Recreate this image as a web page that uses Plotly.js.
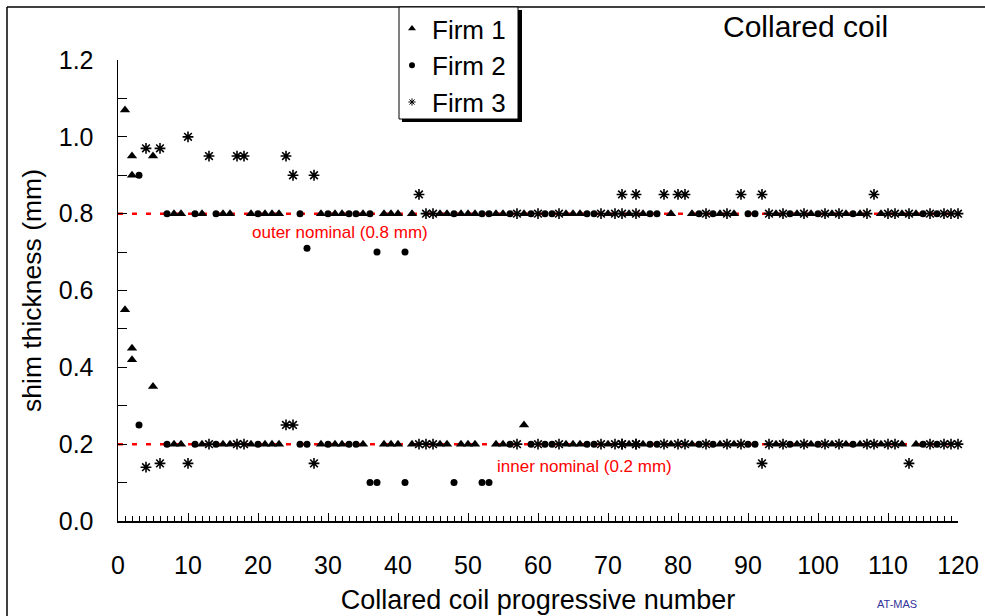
<!DOCTYPE html>
<html>
<head>
<meta charset="utf-8">
<script src="https://cdn.plot.ly/plotly-3.0.1.min.js"></script>
<style>
html,body{margin:0;padding:0;background:#fff;}
#chart{width:985px;height:616px;}
</style>
</head>
<body>
<div id="chart"></div>
<script>
// ---------------- DATA ----------------
// Firm 1 (triangles): coil number, outer shim, inner shim
var firm1Coil  = [1,2,2,5,8,9,12,15,16,19,21,22,23,29,31,32,35,38,39,40,42,46,47,49,50,51,54,55,58,64,65,66,70,73,75,79,82,86,88,94,97,99,102,104,106,109,112,114];
var firm1Outer = [1.07,0.95,0.90,0.95,0.80,0.80,0.80,0.80,0.80,0.80,0.80,0.80,0.80,0.80,0.80,0.80,0.80,0.80,0.80,0.80,0.80,0.80,0.80,0.80,0.80,0.80,0.80,0.80,0.80,0.80,0.80,0.80,0.80,0.80,0.80,0.80,0.80,0.80,0.80,0.80,0.80,0.80,0.80,0.80,0.80,0.80,0.80,0.80];
var firm1Inner = [0.55,0.45,0.42,0.35,0.20,0.20,0.20,0.20,0.20,0.20,0.20,0.20,0.20,0.20,0.20,0.20,0.20,0.20,0.20,0.20,0.20,0.20,0.20,0.20,0.20,0.20,0.20,0.20,0.25,0.20,0.20,0.20,0.20,0.20,0.20,0.20,0.20,0.20,0.20,0.20,0.20,0.20,0.20,0.20,0.20,0.20,0.20,0.20];

// Firm 2 (circles)
var firm2Coil  = [3,7,11,14,20,26,27,30,33,34,36,37,41,48,52,53,56,59,61,62,67,68,76,77,83,85,90,91,96,100,105,115,117];
var firm2Outer = [0.90,0.80,0.80,0.80,0.80,0.80,0.71,0.80,0.80,0.80,0.80,0.70,0.70,0.80,0.80,0.80,0.80,0.80,0.80,0.80,0.80,0.80,0.80,0.80,0.80,0.80,0.80,0.80,0.80,0.80,0.80,0.80,0.80];
var firm2Inner = [0.25,0.20,0.20,0.20,0.20,0.20,0.20,0.20,0.20,0.20,0.10,0.10,0.10,0.10,0.10,0.10,0.20,0.20,0.20,0.20,0.20,0.20,0.20,0.20,0.20,0.20,0.20,0.20,0.20,0.20,0.20,0.20,0.20];

// Firm 3 (stars)
var firm3Coil  = [4,6,10,13,17,18,24,25,28,43,44,45,57,60,63,69,71,72,72,74,74,78,80,81,84,87,89,92,93,95,98,101,103,107,108,110,111,113,116,118,119,120];
var firm3Outer = [0.97,0.97,1.00,0.95,0.95,0.95,0.95,0.90,0.90,0.85,0.80,0.80,0.80,0.80,0.80,0.80,0.80,0.85,0.80,0.85,0.80,0.85,0.85,0.85,0.80,0.80,0.85,0.85,0.80,0.80,0.80,0.80,0.80,0.80,0.85,0.80,0.80,0.80,0.80,0.80,0.80,0.80];
var firm3Inner = [0.14,0.15,0.15,0.20,0.20,0.20,0.25,0.25,0.15,0.20,0.20,0.20,0.20,0.20,0.20,0.20,0.20,0.20,0.20,0.20,0.20,0.20,0.20,0.20,0.20,0.20,0.20,0.15,0.20,0.20,0.20,0.20,0.20,0.20,0.20,0.20,0.20,0.15,0.20,0.20,0.20,0.20];

// Nominal values
var nominalX     = [0, 120];
var outerNominal = 0.8;
var innerNominal = 0.2;

var xTickVals = [0,10,20,30,40,50,60,70,80,90,100,110,120];
var yTickVals = [0.0,0.2,0.4,0.6,0.8,1.0,1.2];

// ---------------- GEOMETRY HELPERS (pixel -> paper) ----------------
var L = 118, R = 958, T = 60, B = 521, W = 985, H = 616;
function px(xp){ return (xp - L) / (R - L); }
function py(yp){ return (B - yp) / (B - T); }

var FONT = 'Arial, "Liberation Sans", sans-serif';

function firmTrace(name, coils, outer, inner, marker){
  return {
    type: 'scatter', mode: 'markers', name: name, showlegend: false,
    x: coils.concat(coils), y: outer.concat(inner),
    marker: marker, cliponaxis: false, hoverinfo: 'x+y'
  };
}
function legendTrace(name, marker){
  return {type:'scatter', mode:'markers', name:name, x:[null], y:[null], marker:marker, showlegend:true};
}

var redDash = {color:'#ff0000', width:2.5, dash:'5px,9px'};

var traces = [
  {type:'scatter', mode:'lines', x:nominalX, y:[outerNominal,outerNominal], line:redDash, showlegend:false, hoverinfo:'skip'},
  {type:'scatter', mode:'lines', x:nominalX, y:[innerNominal,innerNominal], line:redDash, showlegend:false, hoverinfo:'skip'},
  firmTrace('Firm 1', firm1Coil, firm1Outer, firm1Inner, {symbol:'triangle-up', size:9, color:'#000'}),
  firmTrace('Firm 2', firm2Coil, firm2Outer, firm2Inner, {symbol:'circle', size:7, color:'#000'}),
  firmTrace('Firm 3', firm3Coil, firm3Outer, firm3Inner, {symbol:'asterisk-open', size:9, color:'#000', line:{color:'#000', width:1.6}}),
  legendTrace('Firm 1', {symbol:'triangle-up', size:7, color:'#000'}),
  legendTrace('Firm 2', {symbol:'circle', size:6, color:'#000'}),
  legendTrace('Firm 3', {symbol:'asterisk-open', size:6, color:'#000', line:{color:'#000', width:1}})
];

var layout = {
  width: W, height: H,
  margin: {l: L, r: W - R, t: T, b: H - B, pad: 0, autoexpand: false},
  paper_bgcolor: '#fff', plot_bgcolor: '#fff',
  font: {family: FONT, color: '#000', size: 24},
  showlegend: true,
  legend: {
    x: px(392), y: py(5), xanchor: 'left', yanchor: 'top',
    bgcolor: 'rgba(0,0,0,0)', borderwidth: 0,
    font: {family: FONT, size: 26, color: '#000'},
    itemwidth: 30, tracegroupgap: 0
  },
  xaxis: {
    range: [0, 120], showline: true, linecolor: '#000', linewidth: 1.5,
    showgrid: false, zeroline: false,
    tickmode: 'array', tickvals: xTickVals,
    ticks: 'inside', ticklen: 8, tickcolor: '#000', tickwidth: 1,
    minor: {dtick: 1, ticks: 'inside', ticklen: 5, tickcolor: '#000', tickwidth: 1, showgrid: false},
    tickfont: {family: FONT, size: 25, color: '#000'},
    ticklabelstandoff: 21,
    title: {text: 'Collared coil progressive number', font: {family: FONT, size: 27, color: '#000'}, standoff: 12},
    automargin: false, fixedrange: true
  },
  yaxis: {
    range: [0, 1.2], showline: true, linecolor: '#000', linewidth: 1.5,
    showgrid: false, zeroline: false,
    tickmode: 'array', tickvals: yTickVals, tickformat: '.1f',
    ticks: 'inside', ticklen: 9, tickcolor: '#000', tickwidth: 1,
    minor: {dtick: 0.1, ticks: 'inside', ticklen: 9, tickcolor: '#000', tickwidth: 1, showgrid: false},
    tickfont: {family: FONT, size: 25, color: '#000'},
    ticklabelstandoff: 18,
    title: {text: 'shim thickness (mm)', font: {family: FONT, size: 26.5, color: '#000'}, standoff: 9},
    automargin: false, fixedrange: true
  },
  annotations: [
    {text: 'Collared coil', xref: 'paper', yref: 'paper', x: px(805), y: py(27), xanchor: 'center', yanchor: 'middle',
     showarrow: false, font: {family: FONT, size: 30, color: '#000'}},
    {text: 'outer nominal (0.8 mm)', xref: 'x', yref: 'y', x: 31.7, y: 0.752, xanchor: 'center', yanchor: 'middle',
     showarrow: false, font: {family: FONT, size: 17, color: '#ff0000'}},
    {text: 'inner nominal (0.2 mm)', xref: 'x', yref: 'y', x: 66.6, y: 0.141, xanchor: 'center', yanchor: 'middle',
     showarrow: false, font: {family: FONT, size: 17, color: '#ff0000'}},
    {text: 'AT-MAS', xref: 'paper', yref: 'paper', x: px(897), y: py(604), xanchor: 'center', yanchor: 'middle',
     showarrow: false, font: {family: FONT, size: 11, color: '#333399'}}
  ],
  shapes: [
    // outer frame (top & left)
    {type: 'line', xref: 'paper', yref: 'paper', x0: px(7), y0: py(7), x1: px(990), y1: py(7), line: {color: '#000', width: 1.5}},
    {type: 'line', xref: 'paper', yref: 'paper', x0: px(7), y0: py(7), x1: px(7), y1: py(620), line: {color: '#000', width: 1.5}},
    // legend shadow and box
    {type: 'rect', xref: 'paper', yref: 'paper', x0: px(402), y0: py(10), x1: px(522), y1: py(122), fillcolor: '#000', line: {width: 0}},
    {type: 'rect', xref: 'paper', yref: 'paper', x0: px(399), y0: py(7), x1: px(518), y1: py(119), fillcolor: '#fff', line: {color: '#000', width: 1}}
  ]
};

Plotly.newPlot('chart', traces, layout, {displayModeBar: false, staticPlot: true});
</script>
</body>
</html>
